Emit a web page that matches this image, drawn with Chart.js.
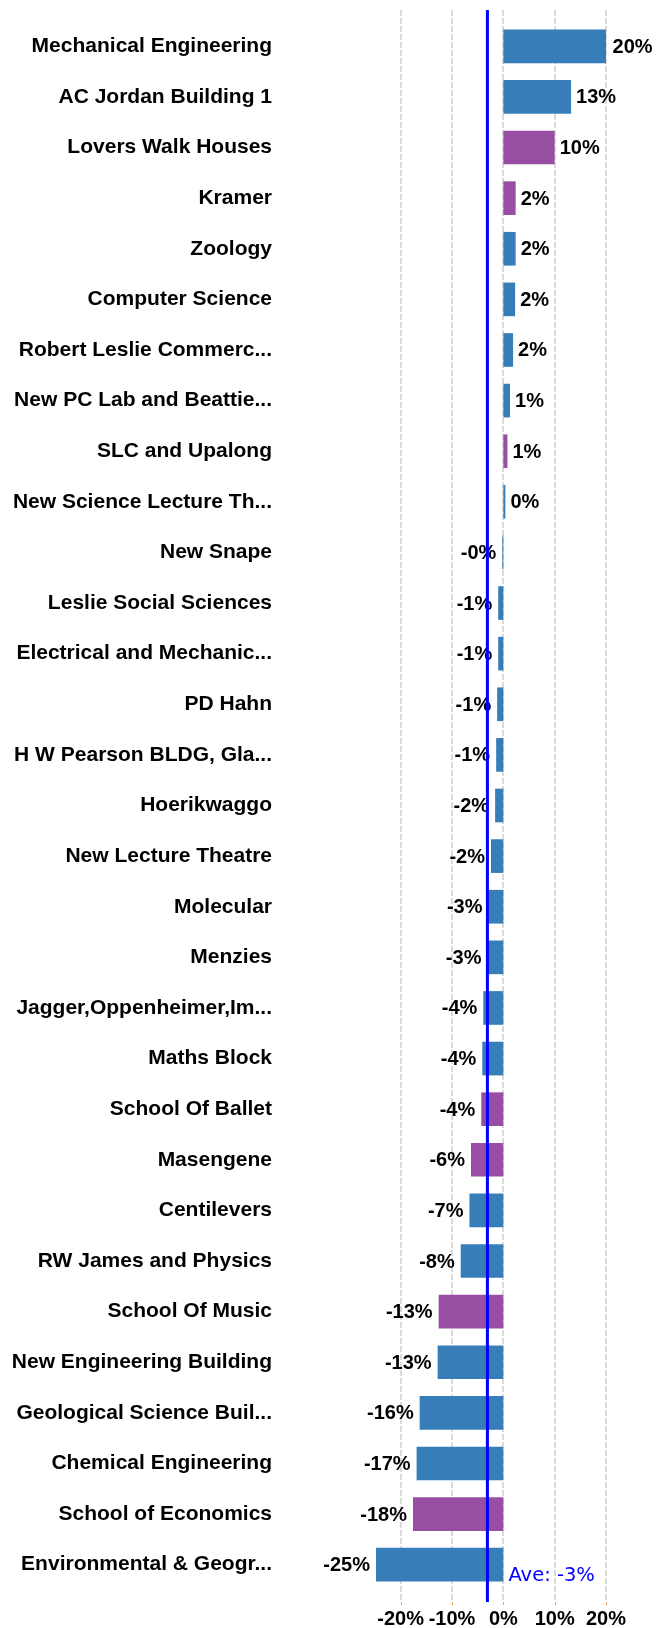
<!DOCTYPE html>
<html><head><meta charset="utf-8">
<script src="https://cdn.jsdelivr.net/npm/chart.js@4.4.0/dist/chart.umd.min.js"></script>
<style>html,body{margin:0;padding:0;background:#fff;}canvas{display:block;}</style>
</head><body>
<canvas id="c" width="666" height="1628"></canvas>
<script>
const categories = [
  'Mechanical Engineering','AC Jordan Building 1','Lovers Walk Houses','Kramer','Zoology',
  'Computer Science','Robert Leslie Commerc...','New PC Lab and Beattie...','SLC and Upalong',
  'New Science Lecture Th...','New Snape','Leslie Social Sciences','Electrical and Mechanic...',
  'PD Hahn','H W Pearson BLDG, Gla...','Hoerikwaggo','New Lecture Theatre','Molecular','Menzies',
  'Jagger,Oppenheimer,Im...','Maths Block','School Of Ballet','Masengene','Centilevers',
  'RW James and Physics','School Of Music','New Engineering Building','Geological Science Buil...',
  'Chemical Engineering','School of Economics','Environmental & Geogr...'
];
const values = [
  20.3, 13.2, 10.0, 2.4, 2.4,
  2.3, 1.9, 1.3, 0.8,
  0.4, -0.2, -1.0, -1.0,
  -1.2, -1.4, -1.6, -2.4, -2.9, -3.1,
  -3.9, -4.1, -4.3, -6.3, -6.6,
  -8.3, -12.6, -12.8, -16.3,
  -16.9, -17.6, -24.8
];
const groups = [
  'A','A','B','B','A',
  'A','A','A','B',
  'A','A','A','A',
  'A','A','A','A','A','A',
  'A','A','B','B','A',
  'A','B','A','A',
  'A','B','A'
];
const groupColors = { A: '#377eb8', B: '#984ea3' };
const average = -3.1;
const averageLabel = 'Ave: -3%';
const xTickValues = [-20, -10, 0, 10, 20];
const xMin = -25, xMax = 20;

const catFont = { family: '"Liberation Sans", Arial, sans-serif', size: 21, weight: 'bold' };
const tickFont = { family: '"Liberation Sans", Arial, sans-serif', size: 20, weight: 'bold' };
const fmt = v => (v < 0 ? '-' : '') + Math.abs(Math.round(v)) + '%';

const gridPlugin = {
  id: 'extGrid',
  beforeDatasetsDraw(chart) {
    const { ctx, chartArea, scales: { x } } = chart;
    ctx.save();
    ctx.strokeStyle = '#dadada';
    ctx.lineWidth = 2;
    ctx.setLineDash([6, 2]);
    x.ticks.forEach(t => {
      const px = Math.round(x.getPixelForValue(t.value));
      ctx.beginPath();
      ctx.moveTo(px, chartArea.top - 11);
      ctx.lineTo(px, chartArea.bottom + 12);
      ctx.stroke();
    });
    ctx.setLineDash([]);
    ctx.strokeStyle = '#f0a050';
    ctx.lineWidth = 1;
    x.ticks.forEach(t => {
      const px = Math.round(x.getPixelForValue(t.value)) + 0.5;
      ctx.beginPath();
      ctx.moveTo(px, chartArea.bottom + 12);
      ctx.lineTo(px, chartArea.bottom + 15);
      ctx.stroke();
    });
    ctx.restore();
  }
};

const labelPlugin = {
  id: 'valLabels',
  afterDatasetsDraw(chart) {
    const { ctx, chartArea, scales: { x } } = chart;
    const meta = chart.getDatasetMeta(0);
    ctx.save();
    ctx.font = 'bold 20px "Liberation Sans", Arial, sans-serif';
    ctx.fillStyle = '#000';
    ctx.textBaseline = 'middle';
    meta.data.forEach((bar, i) => {
      const v = values[i];
      if (v >= 0) { ctx.textAlign = 'left'; ctx.fillText(fmt(v), bar.x + 5, bar.y + 1); }
      else { ctx.textAlign = 'right'; ctx.fillText(fmt(v), bar.x - 6, bar.y + 1); }
    });
    const ax = x.getPixelForValue(average);
    ctx.strokeStyle = '#0000ff';
    ctx.lineWidth = 3;
    ctx.beginPath();
    ctx.moveTo(ax, chartArea.top - 11);
    ctx.lineTo(ax, chartArea.bottom + 12);
    ctx.stroke();
    ctx.font = '19.5px "DejaVu Sans", Verdana, sans-serif';
    ctx.fillStyle = '#0000ff';
    ctx.textAlign = 'left';
    ctx.textBaseline = 'alphabetic';
    ctx.fillText(averageLabel, ax + 21, chartArea.bottom - 9);
    ctx.restore();
  }
};

new Chart(document.getElementById('c'), {
  type: 'bar',
  data: {
    labels: categories,
    datasets: [{
      data: values,
      backgroundColor: groups.map(g => groupColors[g]),
      borderWidth: 0,
      barPercentage: 0.665,
      categoryPercentage: 1
    }]
  },
  options: {
    indexAxis: 'y',
    responsive: false,
    animation: false,
    devicePixelRatio: 1,
    layout: { padding: { top: 21, right: 60, bottom: 0, left: 0 } },
    plugins: { legend: { display: false }, tooltip: { enabled: false } },
    scales: {
      x: {
        min: xMin, max: xMax,
        afterBuildTicks: s => { s.ticks = xTickValues.map(v => ({ value: v })); },
        grid: { display: false, drawTicks: false },
        border: { display: false },
        ticks: { callback: v => v + '%', font: tickFont, color: '#000', padding: 17, autoSkip: false, maxRotation: 0 },
        afterFit: s => { s.height = 38; s.paddingLeft = 0; s.paddingRight = 0; }
      },
      y: {
        grid: { display: false, drawTicks: false },
        border: { display: false },
        ticks: { font: catFont, color: '#000', padding: 103, autoSkip: false },
        afterFit: s => { s.width = 375; s.paddingTop = 0; s.paddingBottom = 0; }
      }
    }
  },
  plugins: [gridPlugin, labelPlugin]
});
</script>
</body></html>
